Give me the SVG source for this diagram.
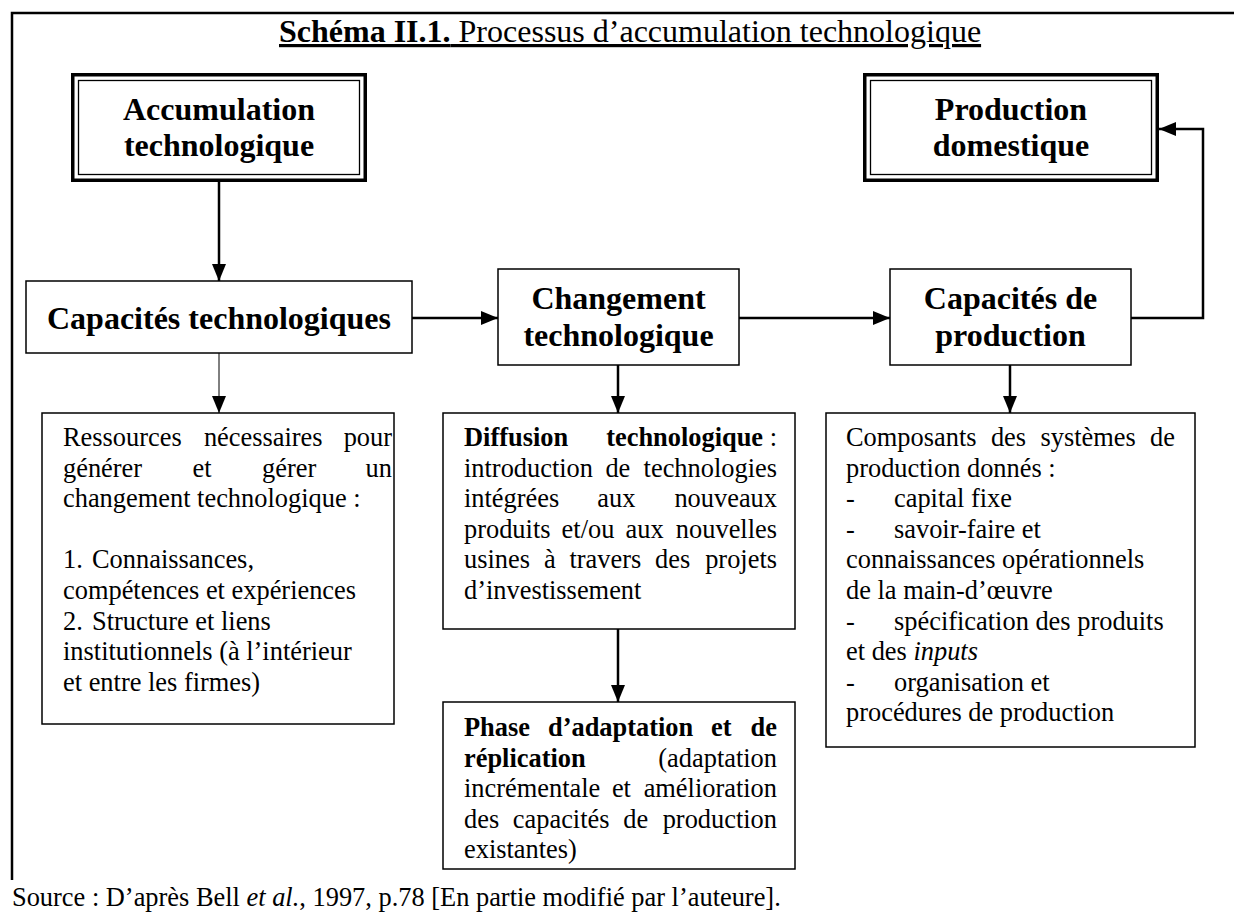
<svg xmlns="http://www.w3.org/2000/svg" width="1234" height="921" viewBox="0 0 1234 921">
<style>
text{font-family:"Liberation Serif","Times New Roman",serif;fill:#000}
.t{font-size:26.4px}
.lb{font-size:32px;font-weight:bold;text-anchor:middle}
.bd{font-weight:bold}
.e{text-anchor:end}
.box{fill:#fff;stroke:#000;stroke-width:1.5}
.dbo{fill:#fff;stroke:#000;stroke-width:3.5}
.dbi{fill:none;stroke:#000;stroke-width:1.3}
.c{fill:none;stroke:#000;stroke-width:2.5}
.cthin{fill:none;stroke:#000;stroke-width:1}
</style>
<defs>
<marker id="ah" markerUnits="userSpaceOnUse" markerWidth="17" markerHeight="14" refX="17" refY="7" orient="auto">
<path d="M0,0 L17,7 L0,14 z" fill="#000"/>
</marker>
</defs>
<rect width="1234" height="921" fill="#fff"/>
<path d="M12,880 V13 H1234" fill="none" stroke="#000" stroke-width="2.5"/>
<g id="title">
<text x="279" y="42" font-size="32" text-decoration="underline"><tspan class="bd">Schéma II.1.</tspan> Processus d’accumulation technologique</text>
</g>
<g id="connectors">
<line class="c" x1="219" y1="182" x2="219" y2="281" marker-end="url(#ah)"/>
<line class="c" x1="412" y1="318" x2="498" y2="318" marker-end="url(#ah)"/>
<line class="c" x1="739" y1="318" x2="890" y2="318" marker-end="url(#ah)"/>
<polyline class="c" points="1131,318 1203,318 1203,129 1159,129" marker-end="url(#ah)"/>
<line class="cthin" x1="219" y1="353" x2="219" y2="413" marker-end="url(#ah)"/>
<line class="c" x1="618" y1="365" x2="618" y2="413" marker-end="url(#ah)"/>
<line class="c" x1="1010" y1="365" x2="1010" y2="413" marker-end="url(#ah)"/>
<line class="c" x1="618" y1="629" x2="618" y2="702" marker-end="url(#ah)"/>
</g>
<g id="accumulation">
<rect class="dbo" x="72.75" y="74.75" width="292.5" height="105.5"/>
<rect class="dbi" x="78.5" y="80.5" width="281" height="94"/>
<text class="lb" x="219" y="120">Accumulation</text>
<text class="lb" x="219" y="156">technologique</text>
</g>
<g id="production-domestique">
<rect class="dbo" x="864.75" y="74.75" width="292.5" height="105.5"/>
<rect class="dbi" x="870.5" y="80.5" width="281" height="94"/>
<text class="lb" x="1011" y="120">Production</text>
<text class="lb" x="1011" y="156">domestique</text>
</g>
<g id="capacites-technologiques">
<rect class="box" x="26" y="281" width="386" height="72"/>
<text class="lb" x="219" y="329">Capacités technologiques</text>
</g>
<g id="changement-technologique">
<rect class="box" x="498" y="269" width="241" height="96"/>
<text class="lb" x="618.5" y="309">Changement</text>
<text class="lb" x="618.5" y="346">technologique</text>
</g>
<g id="capacites-production">
<rect class="box" x="890" y="269" width="241" height="96"/>
<text class="lb" x="1010.5" y="309">Capacités de</text>
<text class="lb" x="1010.5" y="346">production</text>
</g>
<g id="ressources">
<rect class="box" x="42" y="413" width="352" height="311"/>
<text class="t" x="63" y="446">Ressources</text>
<text class="t" x="203.9" y="446">nécessaires</text>
<text class="t e" x="392" y="446">pour</text>
<text class="t" x="63" y="476.6">générer</text>
<text class="t" x="192.5" y="476.6">et</text>
<text class="t" x="262" y="476.6">gérer</text>
<text class="t e" x="392" y="476.6">un</text>
<text class="t" x="63" y="507.2">changement technologique :</text>
<text class="t" x="63" y="568.4">1.</text>
<text class="t" x="92" y="568.4">Connaissances,</text>
<text class="t" x="63" y="599">compétences et expériences</text>
<text class="t" x="63" y="629.6">2.</text>
<text class="t" x="92" y="629.6">Structure et liens</text>
<text class="t" x="63" y="660.2">institutionnels (à l’intérieur</text>
<text class="t" x="63" y="690.8">et entre les firmes)</text>
</g>
<g id="diffusion">
<rect class="box" x="443" y="413" width="352" height="216"/>
<text class="t bd" x="464" y="446">Diffusion</text>
<text class="t e" x="777" y="446"><tspan class="bd">technologique</tspan> :</text>
<text class="t" x="464" y="476.6">introduction</text>
<text class="t" x="605.4" y="476.6">de</text>
<text class="t e" x="777" y="476.6">technologies</text>
<text class="t" x="464" y="507.2">intégrées</text>
<text class="t" x="597.3" y="507.2">aux</text>
<text class="t e" x="777" y="507.2">nouveaux</text>
<text class="t" x="464" y="537.8">produits</text>
<text class="t" x="561.6" y="537.8">et/ou</text>
<text class="t" x="625.5" y="537.8">aux</text>
<text class="t e" x="777" y="537.8">nouvelles</text>
<text class="t" x="464" y="568.4">usines</text>
<text class="t" x="543.9" y="568.4">à</text>
<text class="t" x="569.4" y="568.4">travers</text>
<text class="t" x="655.1" y="568.4">des</text>
<text class="t e" x="777" y="568.4">projets</text>
<text class="t" x="464" y="599">d’investissement</text>
</g>
<g id="phase">
<rect class="box" x="443" y="702" width="352" height="167"/>
<text class="t bd" x="464" y="736">Phase</text>
<text class="t bd" x="548" y="736">d’adaptation</text>
<text class="t bd" x="711.1" y="736">et</text>
<text class="t bd e" x="777" y="736">de</text>
<text class="t bd" x="464" y="766.6">réplication</text>
<text class="t e" x="777" y="766.6">(adaptation</text>
<text class="t" x="464" y="797.2">incrémentale</text>
<text class="t" x="611.9" y="797.2">et</text>
<text class="t e" x="777" y="797.2">amélioration</text>
<text class="t" x="464" y="827.8">des</text>
<text class="t" x="512.8" y="827.8">capacités</text>
<text class="t" x="623.2" y="827.8">de</text>
<text class="t e" x="777" y="827.8">production</text>
<text class="t" x="464" y="858.4">existantes)</text>
</g>
<g id="composants">
<rect class="box" x="826" y="413" width="369" height="334"/>
<text class="t" x="846" y="446">Composants</text>
<text class="t" x="990.9" y="446">des</text>
<text class="t" x="1040.5" y="446">systèmes</text>
<text class="t e" x="1175" y="446">de</text>
<text class="t" x="846" y="476.6">production donnés :</text>
<text class="t" x="846" y="507.2">-</text>
<text class="t" x="894" y="507.2">capital fixe</text>
<text class="t" x="846" y="537.8">-</text>
<text class="t" x="894" y="537.8">savoir-faire et</text>
<text class="t" x="846" y="568.4">connaissances opérationnels</text>
<text class="t" x="846" y="599">de la main-d’œuvre</text>
<text class="t" x="846" y="629.6">-</text>
<text class="t" x="894" y="629.6">spécification des produits</text>
<text class="t" x="846" y="660.2">et des <tspan font-style="italic">inputs</tspan></text>
<text class="t" x="846" y="690.8">-</text>
<text class="t" x="894" y="690.8">organisation et</text>
<text class="t" x="846" y="721.4">procédures de production</text>
</g>
<g id="source">
<text class="t" x="12" y="906">Source : D’après Bell <tspan font-style="italic">et al.</tspan>, 1997, p.78 [En partie modifié par l’auteure].</text>
</g>
</svg>
